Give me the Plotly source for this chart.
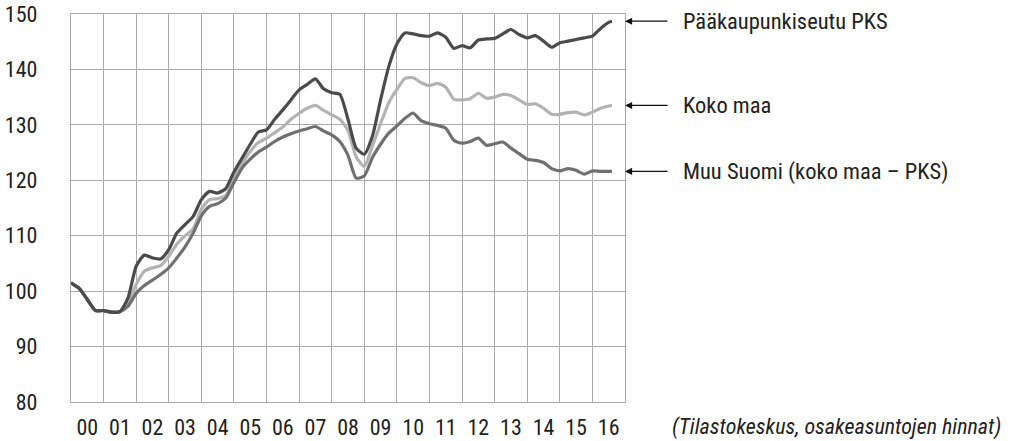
import plotly.graph_objects as go

# Quarterly time points (year as decimal)
years = [2000.0 + 0.25 * i for i in range(67)] + [2016.6]

pks = [101.5, 100.5, 98.5, 96.5, 96.5, 96.2, 96.3, 98.8,
       104.5, 106.5, 106.0, 105.8, 107.5, 110.5, 112.0, 113.5,
       116.5, 118.0, 117.7, 118.5, 121.5, 124.0, 126.5, 128.7,
       129.1, 131.0, 132.7, 134.5, 136.3, 137.3, 138.3, 136.5,
       135.8, 135.5, 131.0, 125.8, 124.7, 128.0, 134.5, 140.5,
       144.6, 146.6, 146.4, 146.1, 146.0, 146.6, 145.8, 143.8,
       144.3, 143.9, 145.3, 145.5, 145.6, 146.4, 147.2, 146.3,
       145.7, 146.1, 145.1, 144.0, 144.8, 145.1, 145.4, 145.7,
       146.0, 147.4, 148.5, 148.7]

koko_maa = [101.5, 100.5, 98.5, 96.5, 96.5, 96.2, 96.3, 97.8,
            101.2, 103.6, 104.2, 104.6, 106.3, 108.5, 110.0, 111.2,
            114.8, 116.5, 116.7, 117.2, 120.4, 123.0, 125.2, 126.8,
            127.6, 128.6, 129.6, 131.0, 132.1, 133.0, 133.5, 132.6,
            131.8, 131.0, 129.0, 124.2, 122.5, 126.2, 130.2, 134.0,
            136.4, 138.4, 138.5, 137.6, 137.1, 137.5, 136.8, 134.6,
            134.5, 134.7, 135.7, 134.8, 135.0, 135.5, 135.3, 134.5,
            133.7, 133.8, 133.0, 131.9, 131.9, 132.2, 132.3, 131.8,
            132.3, 133.0, 133.4, 133.5]

muu_suomi = [101.5, 100.5, 98.5, 96.5, 96.5, 96.2, 96.3, 97.3,
             99.6, 101.0, 102.0, 103.0, 104.2, 106.0, 108.0, 110.5,
             113.6, 115.3, 115.8, 116.8, 119.6, 122.2, 123.8, 125.1,
             126.0, 127.0, 127.8, 128.4, 128.9, 129.3, 129.7, 128.9,
             128.2, 127.0, 124.5, 120.4, 120.8, 124.1, 126.5, 128.5,
             129.8, 131.2, 132.1, 130.7, 130.2, 129.9, 129.4, 127.2,
             126.7, 127.0, 127.6, 126.3, 126.6, 126.9, 125.8, 124.8,
             123.8, 123.6, 123.2, 122.1, 121.7, 122.1, 121.8, 121.1,
             121.7, 121.6, 121.6, 121.6]

tick_positions = [2000.5 + i for i in range(17)]
tick_labels = ["00", "01", "02", "03", "04", "05", "06", "07", "08",
               "09", "10", "11", "12", "13", "14", "15", "16"]
y_ticks = [80, 90, 100, 110, 120, 130, 140, 150]

series_names = ["Pääkaupunkiseutu PKS", "Koko maa", "Muu Suomi (koko maa – PKS)"]
series_values = [pks, koko_maa, muu_suomi]
series_colors = ["#4b4b4b", "#b3b3b3", "#707070"]
source_text = "(Tilastokeskus, osakeasuntojen hinnat)"

FONT = "Roboto Condensed, Roboto, sans-serif"
FS = 22
WEIGHT = 400
GRID = "#ababab"
TXT = "#222222"

fig = go.Figure()
order = [1, 2, 0]
for i in order:
    fig.add_trace(go.Scatter(
        x=years, y=series_values[i], mode="lines", name=series_names[i],
        line=dict(color=series_colors[i], width=3.2, shape="spline", smoothing=0.6),
        showlegend=False,
    ))

annotations = []
for i in range(3):
    yv = series_values[i][-1]
    annotations.append(dict(
        xref="paper", yref="y", x=1.0, y=yv, text="", showarrow=True,
        ax=44, ay=0, axref="pixel", ayref="pixel",
        arrowhead=2, arrowsize=1.1, arrowwidth=1.3, arrowcolor="#111111",
    ))
    annotations.append(dict(
        xref="paper", yref="y", x=1.0, y=yv, xshift=56, text=series_names[i],
        showarrow=False, xanchor="left", yanchor="middle",
        font=dict(family=FONT, size=22.5, color=TXT, weight=WEIGHT),
    ))
annotations.append(dict(
    xref="paper", yref="paper", x=1.0, y=0, xshift=45, yshift=-25,
    text="<i>" + source_text + "</i>", showarrow=False,
    xanchor="left", yanchor="middle",
    font=dict(family=FONT, size=22, color=TXT, weight=WEIGHT),
))

fig.update_layout(
    width=1032, height=441,
    margin=dict(l=71, r=407, t=14, b=39),
    paper_bgcolor="white", plot_bgcolor="white",
    font=dict(family=FONT, size=FS, color=TXT, weight=WEIGHT),
    annotations=annotations,
    xaxis=dict(
        range=[2000, 2017], tickmode="array", tickvals=tick_positions,
        ticktext=tick_labels, showgrid=False, zeroline=False, automargin=False,
        showline=True, mirror=True, linecolor=GRID, linewidth=1.3,
        ticks="", ticklabelstandoff=5,
        minor=dict(tickmode="linear", tick0=2000, dtick=1, showgrid=True,
                   gridcolor=GRID, gridwidth=1.3, ticks=""),
        tickfont=dict(family=FONT, size=FS, color=TXT, weight=WEIGHT),
    ),
    yaxis=dict(
        range=[80, 150], tickmode="array", tickvals=y_ticks,
        showgrid=True, gridcolor=GRID, gridwidth=1.3, zeroline=False, automargin=False,
        showline=True, mirror=True, linecolor=GRID, linewidth=1.3,
        ticks="", ticklabelstandoff=28,
        tickfont=dict(family=FONT, size=FS, color=TXT, weight=WEIGHT),
    ),
)

fig.write_html("out.html", config={"displayModeBar": False},
               post_script="document.body.style.margin='0';")
